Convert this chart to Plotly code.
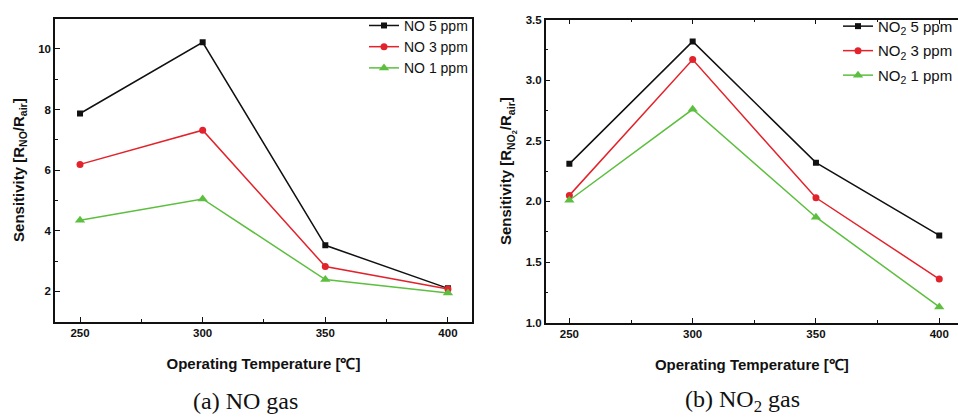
import plotly.graph_objects as go

temps = [250, 300, 350, 400]

no_5ppm = [7.87, 10.22, 3.52, 2.10]
no_3ppm = [6.19, 7.32, 2.82, 2.08]
no_1ppm = [4.35, 5.05, 2.39, 1.95]

no2_5ppm = [2.31, 3.32, 2.32, 1.72]
no2_3ppm = [2.05, 3.17, 2.03, 1.36]
no2_1ppm = [2.01, 2.76, 1.87, 1.13]

left_names = ["NO 5 ppm", "NO 3 ppm", "NO 1 ppm"]
right_names = ["NO<sub>2</sub> 5 ppm", "NO<sub>2</sub> 3 ppm", "NO<sub>2</sub> 1 ppm"]

colors = ["#111111", "#e3232b", "#5dbf3f"]
symbols = ["square", "circle", "triangle-up"]
msizes = [6, 7, 9]

W, H = 958, 419
fig = go.Figure()

for i, (vals, name, c, s, ms) in enumerate(zip([no_5ppm, no_3ppm, no_1ppm], left_names, colors, symbols, msizes)):
    fig.add_trace(go.Scatter(x=temps, y=vals, mode="lines+markers", name=name,
                             line=dict(color=c, width=1.5), marker=dict(symbol=s, size=ms, color=c),
                             xaxis="x", yaxis="y", legend="legend", legendgroup=f"a{i}"))
for i, (vals, name, c, s, ms) in enumerate(zip([no2_5ppm, no2_3ppm, no2_1ppm], right_names, colors, symbols, msizes)):
    fig.add_trace(go.Scatter(x=temps, y=vals, mode="lines+markers", name=name,
                             line=dict(color=c, width=1.5), marker=dict(symbol=s, size=ms, color=c),
                             xaxis="x2", yaxis="y2", legend="legend2", legendgroup=f"b{i}"))

tickfont = dict(family="Liberation Sans", size=11.5, color="#111")
titlefont = dict(family="Liberation Sans", size=15, color="#111")

def xax(domain, rng, anchor, mirror):
    return dict(domain=domain, range=rng, anchor=anchor, showline=True, linecolor="#111", linewidth=1.5,
                mirror=mirror, ticks="inside", ticklen=5, tickwidth=1.2, tickcolor="#111",
                tickvals=temps, ticktext=[f"<b>{t}</b>" for t in temps], tickfont=tickfont,
                minor=dict(ticks="inside", ticklen=3, tickwidth=1.2, tickcolor="#111", dtick=25, tick0=250),
                showgrid=False, zeroline=False,
                title=dict(text="<b>Operating Temperature [℃]</b>", font=titlefont, standoff=20))

def yax(domain, rng, anchor, mirror, dtick, fmt, title, minor_dtick):
    return dict(domain=domain, range=rng, anchor=anchor, showline=True, linecolor="#111", linewidth=1.5,
                mirror=mirror, ticks="inside", ticklen=5, tickwidth=1.2, tickcolor="#111",
                dtick=dtick, tickformat=fmt, tickfont=tickfont, tickprefix="<b>", ticksuffix="</b>",
                minor=dict(ticks="inside", ticklen=3, tickwidth=1.2, tickcolor="#111", dtick=minor_dtick),
                showgrid=False, zeroline=False,
                title=dict(text=title, font=titlefont, standoff=10))

fig.update_layout(
    width=W, height=H, margin=dict(l=0, r=0, t=0, b=0),
    paper_bgcolor="white", plot_bgcolor="white",
    xaxis=xax([55 / W, 472 / W], [239.8, 409.8], "y", True),
    yaxis=yax([(H - 325) / H, (H - 13) / H], [1, 11], "x", True, 2, "d",
              "<b>Sensitivity [R<sub>NO</sub>/R<sub>air</sub>]</b>", 1),
    xaxis2=xax([545.7 / W, 1.0], [240.4, 407.6], "y2", "ticks"),
    yaxis2=yax([(H - 326) / H, (H - 14) / H], [1.0, 3.5], "x2", False, 0.5, ".1f",
               "<b>Sensitivity [R<sub>NO<sub>2</sub></sub>/R<sub>air</sub>]</b>", 0.25),
    legend=dict(x=473 / W, xanchor="right", y=(H - 4) / H, yanchor="top", bgcolor="rgba(0,0,0,0)",
                font=dict(family="Liberation Sans", size=14, color="#111"), itemwidth=30,
                tracegroupgap=0),
    legend2=dict(x=1.0, xanchor="right", y=(H - 4) / H, yanchor="top", bgcolor="rgba(0,0,0,0)",
                 font=dict(family="Liberation Sans", size=15, color="#111"), itemwidth=30,
                 tracegroupgap=2),
    showlegend=True,
    annotations=[
        dict(text="(a) NO gas", x=245 / W, y=(H - 407) / H, xref="paper", yref="paper",
             xanchor="center", yanchor="middle",
             showarrow=False, font=dict(family="Liberation Serif", size=24, color="#111")),
        dict(text="(b) NO<sub>2</sub> gas", x=742 / W, y=(H - 407) / H, xref="paper", yref="paper",
             xanchor="center", yanchor="middle",
             showarrow=False, font=dict(family="Liberation Serif", size=24, color="#111")),
    ],
)

fig.write_html("out.html")
